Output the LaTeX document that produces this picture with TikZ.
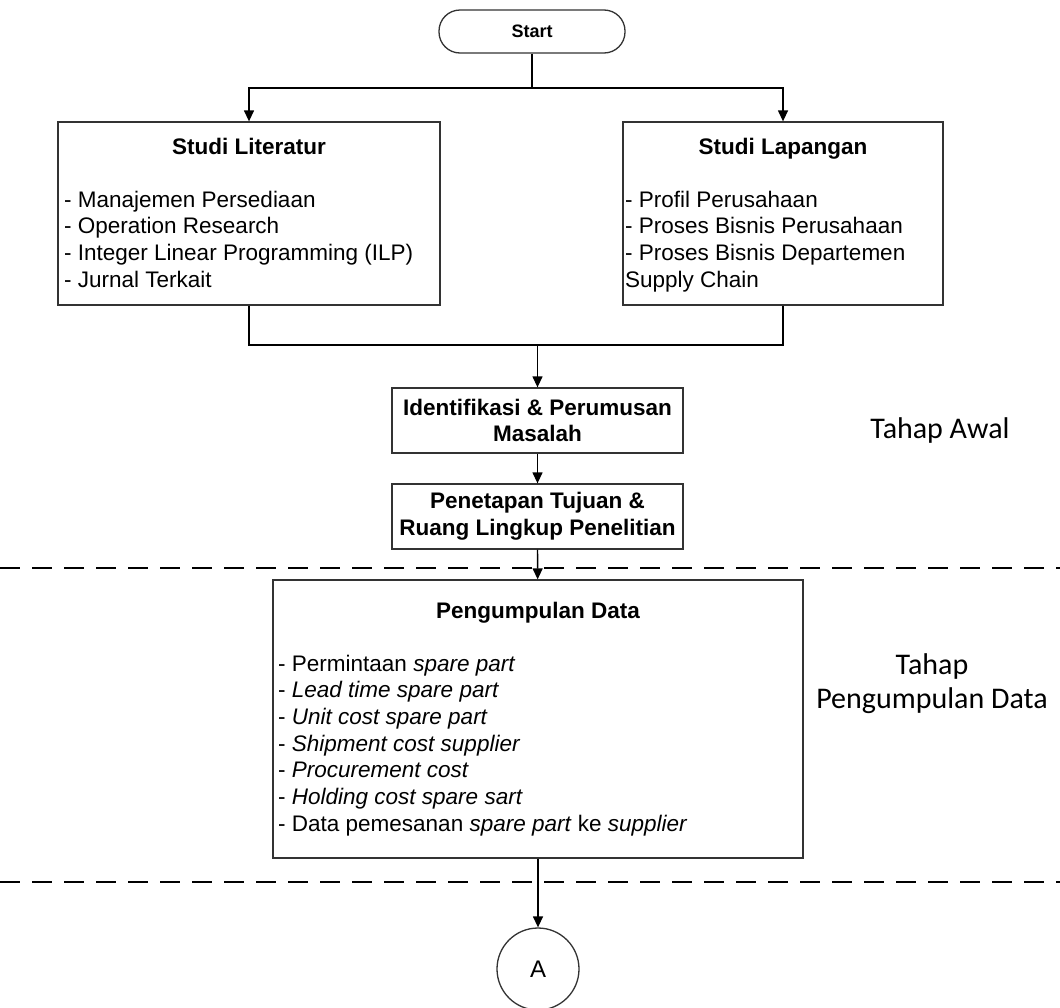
\documentclass[tikz,border=0pt]{standalone}
\usepackage{fontspec}
\setmainfont{Liberation Sans}
\newfontfamily\calibri{Carlito}
\usetikzlibrary{arrows.meta, positioning}

\tikzset{
  kotak/.style={draw=black!80, line width=1.3pt, fill=white, inner sep=0pt},
  judul/.style={font=\fontsize{22.5}{26.7}\selectfont\bfseries, inner sep=0pt},
  isi/.style={font=\fontsize{22.5}{26.7}\selectfont, inner sep=0pt, anchor=base west},
  panah/.style={-{Triangle[length=11pt, width=10pt]}, line width=1.3pt},
  batas/.style={dash pattern=on 20pt off 12pt, line width=2pt},
  tahap/.style={font=\fontsize{30}{34}\selectfont\calibri, align=center, inner sep=0pt}
}

\begin{document}
\begin{tikzpicture}[x=1pt, y=-1pt]
  \useasboundingbox (0,0) rectangle (1060,1007);

  % 1. Garis batas antar tahap
  \draw[batas] (0,568) -- (1060,568);
  \draw[batas] (0,882) -- (1060,882);

  % 2. Start
  \node[kotak, rounded corners=21pt, minimum width=186pt, minimum height=43pt,
        font=\fontsize{18}{21}\selectfont\bfseries] (start) at (532,31.5) {Start};

  % 3. Studi Literatur
  \node[kotak, minimum width=382pt, minimum height=183pt] (lit) at (249,213.5) {};
  \node[judul, anchor=base] (litjudul) at (249,154) {Studi Literatur};
  \foreach \teks [count=\i] in {Manajemen Persediaan, Operation Research,
      {Integer Linear Programming (ILP)}, Jurnal Terkait}
    \node[isi] (lit\i) at (64, 180.3+26.7*\i) {- \teks};

  % 4. Studi Lapangan
  \node[kotak, minimum width=320pt, minimum height=183pt] (lap) at (783,213.5) {};
  \node[judul, anchor=base] (lapjudul) at (783,154) {Studi Lapangan};
  \foreach \teks [count=\i] in {{- Profil Perusahaan}, {- Proses Bisnis Perusahaan},
      {- Proses Bisnis Departemen}, {Supply Chain}}
    \node[isi] (lap\i) at (625, 180.3+26.7*\i) {\teks};

  % 5. Identifikasi dan penetapan tujuan
  \node[kotak, judul, minimum width=291pt, minimum height=65pt, align=center]
    (idf) at (537.5,420.5) {Identifikasi \& Perumusan\\Masalah};
  \node[kotak, judul, minimum width=291pt, minimum height=65pt, align=center]
    (pen) at (537.5,516.5) {Penetapan Tujuan \&\\Ruang Lingkup Penelitian};

  % 6. Pengumpulan Data
  \node[kotak, minimum width=530pt, minimum height=278pt] (data) at (538,719) {};
  \node[judul, anchor=base] (datajudul) at (538,618) {Pengumpulan Data};
  \foreach \teks [count=\i] in {{Permintaan \textit{spare part}},
      {\textit{Lead time spare part}}, {\textit{Unit cost spare part}},
      {\textit{Shipment cost supplier}}, {\textit{Procurement cost}},
      {\textit{Holding cost spare sart}},
      {Data pemesanan \textit{spare part} ke \textit{supplier}}}
    \node[isi] (data\i) at (278, 644.3+26.7*\i) {- \teks};

  % 7. Penghubung A
  \node[circle, draw=black!80, line width=1.3pt, minimum size=82pt, inner sep=0pt,
        font=\fontsize{24}{28}\selectfont] (A) at (538,969) {A};

  % 8. Label tahap
  \node[tahap] (awal) at (940,430) {Tahap Awal};
  \node[tahap] (kumpul) at (932,684) {Tahap\\Pengumpulan Data};

  % 9. Panah
  \coordinate (cabang) at (532,88);
  \coordinate (gabung) at (537.5,345);
  \draw[line width=1.3pt] (start) -- (cabang);
  \draw[panah] (cabang) -| (lit.north);
  \draw[panah] (cabang) -| (lap.north);
  \draw[line width=1.3pt] (lit.south) |- (gabung);
  \draw[line width=1.3pt] (lap.south) |- (gabung);
  \draw[panah] (gabung) -- (idf);
  \draw[panah] (idf) -- (pen);
  \draw[panah] (pen) -- (data);
  \draw[panah] (data) -- (A);

\end{tikzpicture}
\end{document}
